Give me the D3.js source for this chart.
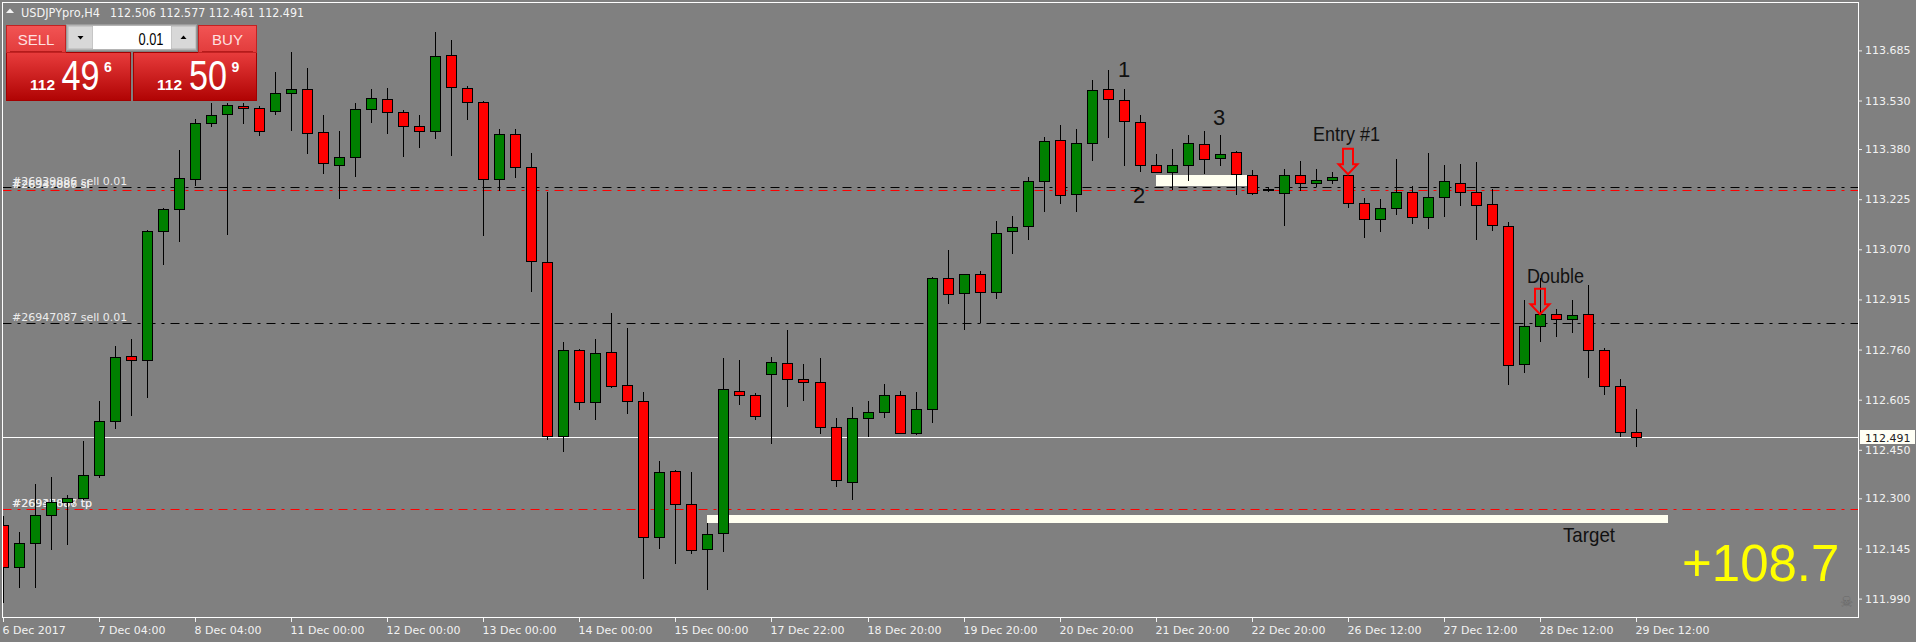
<!doctype html>
<html lang="en">
<head>
<meta charset="utf-8">
<title>USDJPYpro,H4</title>
<style>
    body { margin: 0; background: #808080; overflow: hidden; }
    svg { display: block; font-family: "DejaVu Sans", Verdana, sans-serif; }
    .axis text { fill: #f2f2f2; font-size: 11px; font-family: "DejaVu Sans", sans-serif; }
    .axis line { stroke: #f2f2f2; }
    .axis path { display: none; }
    .note { font-family: "Liberation Sans", Arial, sans-serif; fill: #111; }
</style>
</head>
<body>
<svg id="chart" width="1916" height="642"></svg>

<script src="https://d3js.org/d3.v7.min.js"></script>
<script>

    // H4 candles, 6 Dec 2017 .. 29 Dec 2017 12:00
    const opens = [112.217, 112.087, 112.161, 112.249, 112.288, 112.301, 112.371, 112.539, 112.740, 112.727,
        113.128, 113.194, 113.287, 113.460, 113.487, 113.512, 113.506, 113.499, 113.552, 113.565,
        113.432, 113.332, 113.355, 113.503, 113.535, 113.493, 113.450, 113.437, 113.670, 113.568,
        113.525, 113.287, 113.426, 113.325, 113.031, 112.492, 112.758, 112.599, 112.752, 112.650,
        112.601, 112.180, 112.384, 112.284, 112.142, 112.192, 112.631, 112.618, 112.684, 112.717,
        112.668, 112.661, 112.520, 112.352, 112.547, 112.566, 112.618, 112.502, 112.575, 112.980,
        112.935, 112.993, 112.937, 113.126, 113.142, 113.280, 113.407, 113.240, 113.398, 113.565,
        113.531, 113.464, 113.330, 113.308, 113.330, 113.395, 113.352, 113.370, 113.299, 113.256,
        113.244, 113.299, 113.275, 113.284, 113.299, 113.212, 113.165, 113.199, 113.246, 113.169,
        113.233, 113.276, 113.246, 113.209, 113.141, 112.714, 112.832, 112.869, 112.854, 112.871,
        112.758, 112.647, 112.506];
    const highs = [112.246, 112.195, 112.345, 112.366, 112.309, 112.478, 112.602, 112.771, 112.792, 113.130,
        113.198, 113.378, 113.473, 113.521, 113.522, 113.522, 113.512, 113.617, 113.679, 113.631,
        113.485, 113.436, 113.521, 113.566, 113.569, 113.502, 113.485, 113.742, 113.717, 113.574,
        113.530, 113.441, 113.441, 113.368, 113.247, 112.784, 112.761, 112.793, 112.874, 112.828,
        112.630, 112.414, 112.388, 112.381, 112.223, 112.733, 112.728, 112.625, 112.737, 112.821,
        112.716, 112.733, 112.547, 112.583, 112.602, 112.654, 112.632, 112.628, 112.983, 113.068,
        112.995, 113.002, 113.156, 113.173, 113.293, 113.416, 113.455, 113.441, 113.592, 113.625,
        113.565, 113.485, 113.366, 113.380, 113.423, 113.436, 113.423, 113.375, 113.316, 113.262,
        113.318, 113.344, 113.318, 113.309, 113.302, 113.228, 113.225, 113.350, 113.265, 113.368,
        113.331, 113.333, 113.340, 113.256, 113.154, 112.913, 112.980, 112.885, 112.913, 112.960,
        112.765, 112.668, 112.577];
    const lows = [111.980, 112.025, 112.027, 112.142, 112.160, 112.297, 112.366, 112.516, 112.559, 112.612,
        113.026, 113.097, 113.269, 113.452, 113.118, 113.459, 113.423, 113.487, 113.439, 113.369,
        113.307, 113.230, 113.297, 113.463, 113.431, 113.360, 113.387, 113.413, 113.363, 113.473,
        113.113, 113.252, 113.294, 112.941, 112.485, 112.447, 112.575, 112.544, 112.644, 112.565,
        112.055, 112.147, 112.099, 112.132, 112.021, 112.138, 112.592, 112.544, 112.470, 112.584,
        112.603, 112.503, 112.337, 112.297, 112.494, 112.550, 112.502, 112.500, 112.537, 112.903,
        112.825, 112.846, 112.918, 113.060, 113.101, 113.187, 113.212, 113.187, 113.347, 113.416,
        113.332, 113.313, 113.308, 113.256, 113.283, 113.307, 113.332, 113.242, 113.240, 113.251,
        113.146, 113.252, 113.265, 113.274, 113.202, 113.109, 113.128, 113.178, 113.150, 113.137,
        113.174, 113.208, 113.103, 113.131, 112.652, 112.692, 112.788, 112.803, 112.813, 112.674,
        112.623, 112.492, 112.461];
    const closes = [112.087, 112.161, 112.249, 112.288, 112.301, 112.371, 112.539, 112.736, 112.727, 113.126,
        113.194, 113.289, 113.460, 113.484, 113.516, 113.506, 113.437, 113.552, 113.565, 113.430,
        113.336, 113.355, 113.503, 113.537, 113.493, 113.450, 113.437, 113.668, 113.571, 113.525,
        113.287, 113.428, 113.325, 113.033, 112.492, 112.758, 112.597, 112.749, 112.647, 112.601,
        112.180, 112.380, 112.284, 112.140, 112.189, 112.637, 112.618, 112.556, 112.721, 112.668,
        112.659, 112.520, 112.356, 112.547, 112.566, 112.618, 112.503, 112.575, 112.980, 112.932,
        112.993, 112.937, 113.120, 113.139, 113.280, 113.404, 113.237, 113.398, 113.562, 113.535,
        113.466, 113.332, 113.308, 113.330, 113.398, 113.349, 113.366, 113.302, 113.244, 113.256,
        113.299, 113.275, 113.283, 113.295, 113.213, 113.163, 113.199, 113.246, 113.171, 113.233,
        113.280, 113.247, 113.206, 113.145, 112.712, 112.832, 112.869, 112.854, 112.866, 112.759,
        112.647, 112.504, 112.491];

    const timeLabelBars = [0, 6, 12, 18, 24, 30, 36, 42, 48, 54, 60, 66, 72, 78, 84, 90, 96, 102];
    const timeLabels = ["6 Dec 2017", "7 Dec 04:00", "8 Dec 04:00", "11 Dec 00:00", "12 Dec 00:00",
        "13 Dec 00:00", "14 Dec 00:00", "15 Dec 00:00", "17 Dec 22:00", "18 Dec 20:00", "19 Dec 20:00",
        "20 Dec 20:00", "21 Dec 20:00", "22 Dec 20:00", "26 Dec 12:00", "27 Dec 12:00", "28 Dec 12:00",
        "29 Dec 12:00"];
    const priceTicks = [113.685, 113.530, 113.380, 113.225, 113.070, 112.915, 112.760, 112.605,
        112.450, 112.300, 112.145, 111.990];

    const symbol = "USDJPYpro,H4";
    const bid = 112.491;
    const bidParts = ["112", "49", "6"];
    const askParts = ["112", "50", "9"];
    const lotSize = "0.01";

    // order lines: entry of #26939886, sl, entry of #26947087, tp
    const orderPrices = [113.264, 113.254, 112.841, 112.266];
    const orderKinds = ["open", "stop", "open", "stop"];
    const orderTexts = [["#26939886 sell 0.01"], ["#26939886 sl", "#26947087 sl"],
        ["#26947087 sell 0.01"], ["#26939886 tp", "#26947087 tp"]];

    // hand drawn marks
    const boxBars = [[44, 104], [72, 78]];
    const boxPrices = [[112.249, 112.225], [113.299, 113.266]];
    const arrowBars = [84, 96];
    const arrowPrices = [113.302, 112.869];
    const noteTexts = ["1", "2", "3", "Entry #1", "Double", "Target"];
    const noteBars = [69.65, 70.58, 75.58, 81.83, 95.19, 97.44];
    const notePrices = [113.603, 113.213, 113.454, 113.405, 112.966, 112.165];
    const profitText = "+108.7";

    const svg = d3.select("#chart");
    const W = 1916;
    const plot = {left: 2.5, top: 2.5, right: 1858.5, bottom: 617.5};

    const x = d3.scaleLinear().domain([0, 102]).range([3, 1636]);
    const y = d3.scaleLinear().domain([111.990, 113.685]).range([598.6, 50.4]);
    const px = v => Math.round(x(v)) + 0.5;
    const py = v => Math.round(y(v)) + 0.5;

    svg.append("rect").attr("width", W).attr("height", 642).attr("fill", "#808080");

    svg.append("clipPath").attr("id", "plotclip")
        .append("rect")
        .attr("x", plot.left).attr("y", plot.top)
        .attr("width", plot.right - plot.left).attr("height", plot.bottom - plot.top);

    let g = svg.append("g").attr("clip-path", "url(#plotclip)");

    // boxes sit behind candles
    boxBars.forEach(function (b, k) {
        g.append("rect")
            .attr("x", Math.round(x(b[0])))
            .attr("y", Math.round(y(boxPrices[k][0])))
            .attr("width", Math.round(x(b[1])) - Math.round(x(b[0])))
            .attr("height", Math.round(y(boxPrices[k][1])) - Math.round(y(boxPrices[k][0])))
            .attr("fill", "#fffff0");
    });

    // order lines
    orderPrices.forEach(function (p, k) {
        g.append("line")
            .attr("x1", plot.left).attr("x2", plot.right)
            .attr("y1", py(p)).attr("y2", py(p))
            .attr("stroke", orderKinds[k] === "open" ? "#000" : "#ff0000")
            .attr("stroke-dasharray", "9,6,3,6");
        orderTexts[k].forEach(function (t) {
            g.append("text")
                .attr("x", 12).attr("y", py(p) - 3 + (k === 1 ? 0.5 : 0))
                .attr("fill", "#ececec").attr("font-size", "11px")
                .text(t);
        });
    });

    // bid line
    g.append("line")
        .attr("x1", plot.left).attr("x2", plot.right)
        .attr("y1", py(bid)).attr("y2", py(bid))
        .attr("stroke", "#fff");

    // candles
    const bars = d3.range(opens.length);
    g.selectAll("line.wick").data(bars).enter()
        .append("line").attr("class", "wick")
        .attr("x1", px).attr("x2", px)
        .attr("y1", i => py(highs[i]) - 0.5).attr("y2", i => py(lows[i]) + 0.5)
        .attr("stroke", "#000");

    g.selectAll("rect.body").data(bars).enter()
        .append("rect").attr("class", "body")
        .attr("x", i => px(i) - 5)
        .attr("width", 10)
        .attr("y", i => py(Math.max(opens[i], closes[i])))
        .attr("height", i => Math.max(1, py(Math.min(opens[i], closes[i])) - py(Math.max(opens[i], closes[i]))))
        .attr("fill", i => closes[i] > opens[i] ? "#008000" : (closes[i] < opens[i] ? "#ff0000" : "#000"))
        .attr("stroke", "#000");

    // arrows
    arrowBars.forEach(function (b, k) {
        let cx = px(b) - 0.5, ty = y(arrowPrices[k]);
        let pts = [[-5, -25.5], [5, -25.5], [5, -10], [9.5, -10], [0, 0], [-9.5, -10], [-5, -10]];
        g.append("path")
            .attr("d", "M" + pts.map(p => (cx + p[0]) + "," + (ty + p[1])).join("L") + "Z")
            .attr("fill", "none").attr("stroke", "#ff0000").attr("stroke-width", 2);
    });

    // notes
    const noteSizes = [22, 22, 22, 21, 21, 21];
    const noteWidths = [null, null, null, 67, 57, 52];
    noteTexts.forEach(function (t, k) {
        let tx = g.append("text").attr("class", "note")
            .attr("x", x(noteBars[k])).attr("y", y(notePrices[k]))
            .attr("font-size", noteSizes[k] + "px")
            .text(t);
        if (noteWidths[k]) tx.attr("textLength", noteWidths[k]).attr("lengthAdjust", "spacingAndGlyphs");
    });

    g.append("text")
        .attr("x", 1682).attr("y", 581)
        .attr("font-family", "'Liberation Sans', Arial, sans-serif")
        .attr("font-size", "51px").attr("fill", "#ffff00")
        .text(profitText);

    g.append("text")
        .attr("x", 1846.5).attr("y", 607).attr("text-anchor", "middle")
        .attr("font-size", "15px").attr("fill", "#6a6a6a")
        .text("\u2620");

    // frame
    svg.append("rect")
        .attr("x", plot.left).attr("y", plot.top)
        .attr("width", plot.right - plot.left).attr("height", plot.bottom - plot.top)
        .attr("fill", "none").attr("stroke", "#fff");

    // axes
    svg.append("g").attr("class", "axis")
        .attr("transform", "translate(0," + (plot.bottom + 0.5) + ")")
        .call(d3.axisBottom(x).tickValues(timeLabelBars).tickSize(4)
            .tickFormat((d, i) => timeLabels[i]))
        .call(a => a.selectAll(".tick").attr("transform", d => "translate(" + px(d) + ",0)"))
        .call(a => a.selectAll("text").attr("text-anchor", "start").attr("x", -1).attr("y", 8));

    svg.append("g").attr("class", "axis")
        .attr("transform", "translate(" + (plot.right - 0.5) + ",0)")
        .call(d3.axisRight(y).tickValues(priceTicks).tickSize(4).tickFormat(d3.format(".3f")))
        .call(a => a.selectAll("text").attr("x", 7));

    // bid label on the price scale
    svg.append("rect")
        .attr("x", 1860).attr("y", Math.round(y(bid)) - 7)
        .attr("width", 55).attr("height", 14)
        .attr("fill", "#fffff5");
    svg.append("text")
        .attr("x", 1865).attr("y", Math.round(y(bid)) + 4.5)
        .attr("font-size", "11px").attr("fill", "#222")
        .text(bid.toFixed(3));

    // header
    svg.append("path").attr("d", "M6,13L10,8.5L14,13Z").attr("fill", "#f4f4f4");
    svg.append("text")
        .attr("x", 21).attr("y", 17.3)
        .attr("font-size", "12px").attr("fill", "#f4f4f4")
        .attr("textLength", 79).attr("lengthAdjust", "spacingAndGlyphs")
        .text(symbol);
    svg.append("text")
        .attr("x", 110).attr("y", 17.3)
        .attr("font-size", "12px").attr("fill", "#f4f4f4")
        .attr("textLength", 194).attr("lengthAdjust", "spacingAndGlyphs")
        .text([opens[102], highs[102], lows[102], closes[102]].map(v => v.toFixed(3)).join(" "));

    // one click trading panel
    let defs = svg.append("defs");
    let gBig = defs.append("linearGradient").attr("id", "gBig").attr("x1", 0).attr("x2", 0).attr("y1", 0).attr("y2", 1);
    gBig.append("stop").attr("offset", "0%").attr("stop-color", "#e83c3c");
    gBig.append("stop").attr("offset", "100%").attr("stop-color", "#b00303");
    let gTab = defs.append("linearGradient").attr("id", "gTab").attr("x1", 0).attr("x2", 0).attr("y1", 0).attr("y2", 1);
    gTab.append("stop").attr("offset", "0%").attr("stop-color", "#f25454");
    gTab.append("stop").attr("offset", "100%").attr("stop-color", "#e23c3c");

    let panel = svg.append("g");
    [[6, 131], [133, 257]].forEach(function (r) {
        panel.append("rect").attr("x", r[0] + 0.5).attr("y", 52.5).attr("width", r[1] - r[0] - 1).attr("height", 48)
            .attr("fill", "url(#gBig)").attr("stroke", "#a30000");
    });
    [[6, 66, "SELL"], [198, 257, "BUY"]].forEach(function (r) {
        panel.append("rect").attr("x", r[0] + 0.5).attr("y", 25.5).attr("width", r[1] - r[0] - 1).attr("height", 27)
            .attr("fill", "url(#gTab)").attr("stroke", "#c22222");
        panel.append("line").attr("x1", r[0] + 4).attr("x2", r[1] - 4).attr("y1", 51.5).attr("y2", 51.5)
            .attr("stroke", "#b51b1b");
        panel.append("text").attr("x", (r[0] + r[1]) / 2).attr("y", 44.5).attr("text-anchor", "middle")
            .attr("font-family", "'Liberation Sans', Arial, sans-serif")
            .attr("font-size", "15px").attr("fill", "#ffe0e0").text(r[2]);
    });

    panel.append("rect").attr("x", 66.5).attr("y", 24.5).attr("width", 130).attr("height", 26)
        .attr("fill", "#b4b4b4").attr("stroke", "#9a9a9a");
    panel.append("rect").attr("x", 68.5).attr("y", 26.5).attr("width", 24).attr("height", 22).attr("fill", "#d8d8d8");
    panel.append("rect").attr("x", 171.5).attr("y", 26.5).attr("width", 24).attr("height", 22).attr("fill", "#d8d8d8");
    panel.append("rect").attr("x", 93).attr("y", 26).attr("width", 78).attr("height", 23).attr("fill", "#fff");
    panel.append("path").attr("d", "M77.5,36L83.5,36L80.5,39.5Z").attr("fill", "#000");
    panel.append("path").attr("d", "M180.5,39L186.5,39L183.5,35.5Z").attr("fill", "#000");
    panel.append("text").attr("x", 163.5).attr("y", 44.5).attr("text-anchor", "end")
        .attr("font-family", "'Liberation Sans', Arial, sans-serif")
        .attr("font-size", "16px").attr("fill", "#000")
        .attr("textLength", 25).attr("lengthAdjust", "spacingAndGlyphs")
        .text(lotSize);

    [[bidParts, 30, 61.5, 104], [askParts, 157, 189, 231.5]].forEach(function (q) {
        panel.append("text").attr("x", q[1]).attr("y", 90)
            .attr("font-family", "'Liberation Sans', Arial, sans-serif").attr("font-weight", "bold")
            .attr("font-size", "15px").attr("fill", "#fff")
            .attr("textLength", 25).attr("lengthAdjust", "spacingAndGlyphs")
            .text(q[0][0]);
        panel.append("text").attr("x", q[2]).attr("y", 90)
            .attr("font-family", "'Liberation Sans', Arial, sans-serif")
            .attr("font-size", "42px").attr("fill", "#fff")
            .attr("textLength", 38).attr("lengthAdjust", "spacingAndGlyphs")
            .text(q[0][1]);
        panel.append("text").attr("x", q[3]).attr("y", 72)
            .attr("font-family", "'Liberation Sans', Arial, sans-serif").attr("font-weight", "bold")
            .attr("font-size", "14px").attr("fill", "#fff")
            .text(q[0][2]);
    });

</script>
</body>
</html>
